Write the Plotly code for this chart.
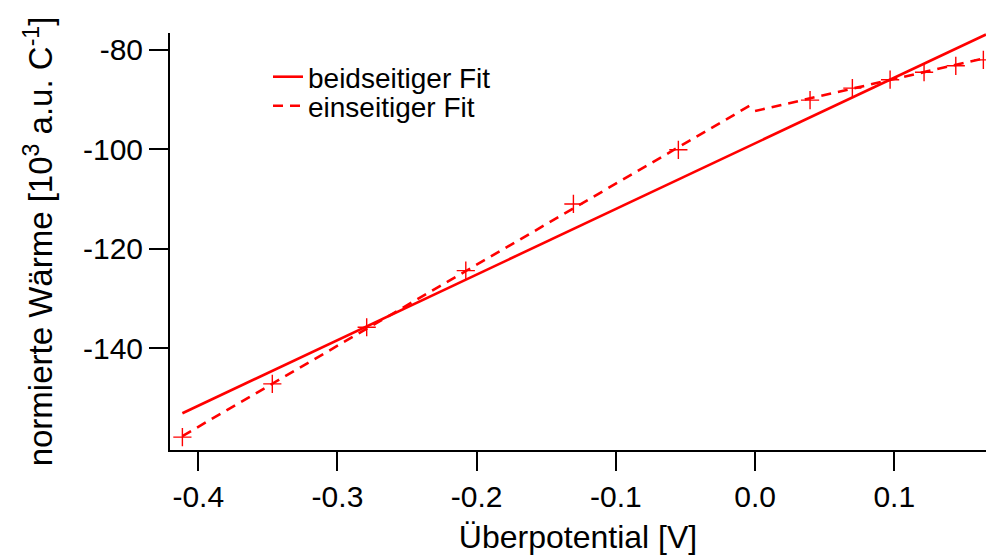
import plotly.graph_objects as go

# Measured data points (Überpotential [V], normierte Wärme [10^3 a.u. C^-1])
pot_data = [-0.4114, -0.3468, -0.2790, -0.2078, -0.1305, -0.0551,
            0.0395, 0.0699, 0.0970, 0.1214, 0.1442, 0.1640]
heat_data = [-157.9, -147.2, -135.8, -124.4, -111.0, -100.1,
             -90.1, -87.7, -86.0, -84.5, -83.2, -82.0]

# beidseitiger Fit (one line through all points)
fit_both_x = [-0.4114, 0.1659]
fit_both_y = [-153.1, -76.9]

# einseitiger Fit (separate lines for negative and positive branch)
fit_neg_x = [-0.4114, 0.0]
fit_neg_y = [-157.7, -90.6]
fit_pos_x = [0.0, 0.1659]
fit_pos_y = [-92.3, -81.6]

RED = "#ff0000"
FONT = "Arial, Liberation Sans, sans-serif"

fig = go.Figure()
fig.add_trace(go.Scatter(
    x=fit_both_x, y=fit_both_y, mode="lines", name="beidseitiger Fit",
    line=dict(color=RED, width=2.6), legend="legend"))
fig.add_trace(go.Scatter(
    x=fit_neg_x + [None] + fit_pos_x, y=fit_neg_y + [None] + fit_pos_y,
    mode="lines", name="einseitiger Fit", connectgaps=False,
    line=dict(color=RED, width=2.6, dash="10px,7px"), legend="legend2"))
fig.add_trace(go.Scatter(
    x=pot_data, y=heat_data, mode="markers", showlegend=False,
    marker=dict(symbol="cross-thin", size=13, color=RED,
                line=dict(color=RED, width=1.4))))

axis_common = dict(
    showline=True, linecolor="black", linewidth=2, mirror=False,
    ticks="outside", ticklen=19, tickwidth=2, tickcolor="black",
    showgrid=False, zeroline=False,
    tickfont=dict(family=FONT, size=30, color="black"),
)

PLOT_TOP, PLOT_H = 33, 417


def ypaper(px):
    return 1.0 - (px - PLOT_TOP) / PLOT_H


legend_common = dict(
    x=(268 - 170) / 816, xanchor="left", yanchor="middle",
    bgcolor="rgba(0,0,0,0)", borderwidth=0,
    font=dict(family=FONT, size=28, color="black"),
)

fig.update_layout(
    width=986, height=557,
    margin=dict(l=170, r=0, t=PLOT_TOP, b=107),
    paper_bgcolor="white", plot_bgcolor="white",
    font=dict(family=FONT, color="black"),
    xaxis=dict(
        range=[-0.4203, 0.1659], tickvals=[-0.4, -0.3, -0.2, -0.1, 0.0, 0.1],
        ticktext=["-0.4", "-0.3", "-0.2", "-0.1", "0.0", "0.1"],
        title=dict(text="Überpotential [V]", font=dict(family=FONT, size=32), standoff=14),
        **axis_common),
    yaxis=dict(
        range=[-160.5, -76.6], tickvals=[-140, -120, -100, -80],
        ticktext=["-140", "-120", "-100", "-80"],
        title=dict(text="normierte Wärme [10<sup>3</sup> a.u. C<sup>-1</sup>]",
                   font=dict(family=FONT, size=33), standoff=20),
        **axis_common),
    legend=dict(y=ypaper(77), **legend_common),
    legend2=dict(y=ypaper(106), **legend_common),
    showlegend=True,
)

fig.write_html("out.html")
